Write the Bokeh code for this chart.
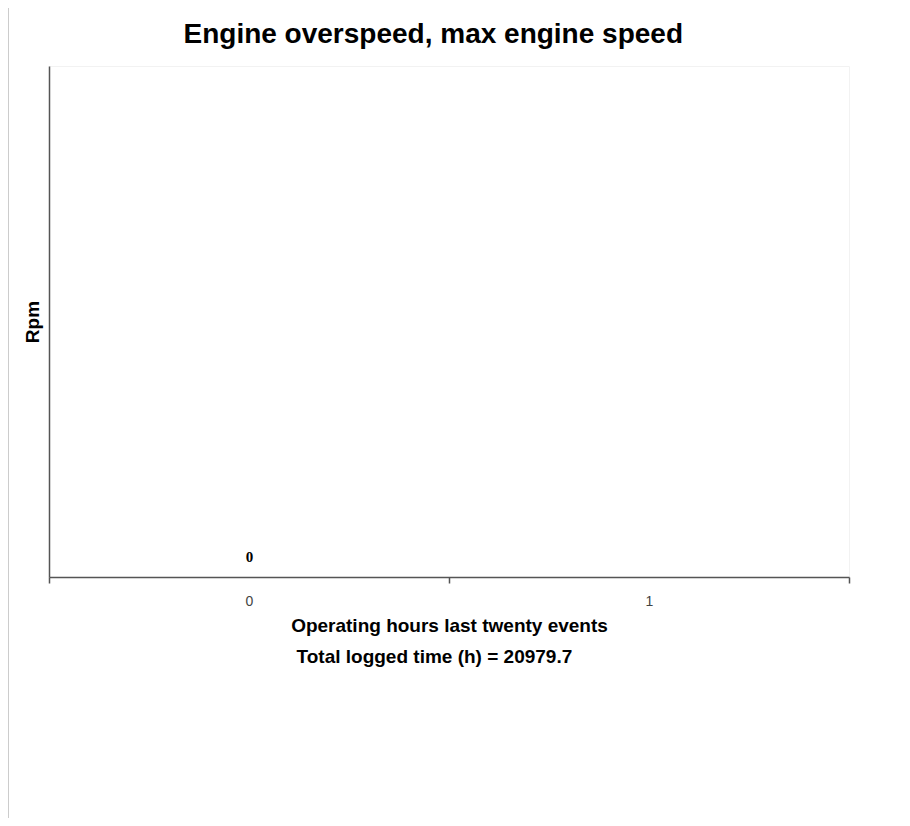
from bokeh.plotting import figure
from bokeh.models import Range1d, FixedTicker, Title, ColumnDataSource
from bokeh.core.properties import value
from bokeh.embed import file_html
from bokeh.resources import INLINE

# data
tick_labels = ["0", "1"]            # x categories shown on the axis
event_hours = ["0"]                 # categories that carry an event
max_rpm = [0]                       # max engine speed per event
total_logged_time = 20979.7

title_text = "Engine overspeed, max engine speed"
x_label = "Operating hours last twenty events"
y_label = "Rpm"

n = len(tick_labels)
centers = [tick_labels.index(h) + 0.5 for h in event_hours]
src = ColumnDataSource(dict(x=centers, top=max_rpm, label=[str(v) for v in max_rpm]))

p = figure(width=892, height=810, output_backend="svg", toolbar_location=None,
           x_range=Range1d(0, n), y_range=Range1d(0, 1),
           min_border_left=40, min_border_right=52, min_border_top=57,
           min_border_bottom=241)
p.margin = (8, 0, 0, 8)
p.styles = {"border-left": "1px solid #cccccc"}

p.title.text = title_text
p.title.text_font = "Liberation Sans"
p.title.text_font_size = "28px"
p.title.text_font_style = "bold"
p.title.text_color = "black"
p.title.align = "left"
p.title.offset = 134
p.title.standoff = 14

# small blank spacer between title and frame
p.add_layout(Title(text=" ", text_font_size="8px", standoff=0), "above")

p.grid.visible = False
p.outline_line_color = "#f2f2f2"
p.background_fill_color = "white"
p.border_fill_color = "white"

# x axis: labels at category centres, ticks at boundaries
xt = FixedTicker(ticks=[i + 0.5 for i in range(n)], minor_ticks=list(range(n + 1)))
p.xaxis.ticker = xt
p.xaxis.major_label_overrides = {i + 0.5: lab for i, lab in enumerate(tick_labels)}
p.xaxis.major_tick_line_color = None
p.xaxis.major_tick_out = 6
p.xaxis.major_tick_in = 0
p.xaxis.minor_tick_line_color = "#555555"
p.xaxis.minor_tick_line_width = 1.5
p.xaxis.minor_tick_out = 6
p.xaxis.minor_tick_in = 0
p.xaxis.major_label_standoff = 12
p.xaxis.major_label_text_font = "Liberation Sans"
p.xaxis.major_label_text_font_size = "14px"
p.xaxis.major_label_text_color = "#444444"
p.xaxis.axis_line_color = "#555555"
p.xaxis.axis_line_width = 1.5
p.xaxis.axis_label = x_label
p.xaxis.axis_label_text_font = "Liberation Sans"
p.xaxis.axis_label_text_font_size = "19px"
p.xaxis.axis_label_text_font_style = "bold"
p.xaxis.axis_label_text_color = "black"
p.xaxis.axis_label_standoff = 6

# y axis: no ticks
p.yaxis.ticker = FixedTicker(ticks=[])
p.yaxis.axis_line_color = "#555555"
p.yaxis.axis_line_width = 1.5
p.yaxis.major_tick_line_color = None
p.yaxis.minor_tick_line_color = None
p.yaxis.axis_label = y_label
p.yaxis.axis_label_text_font = "Liberation Sans"
p.yaxis.axis_label_text_font_size = "19px"
p.yaxis.axis_label_text_font_style = "bold"
p.yaxis.axis_label_text_color = "black"
p.yaxis.axis_label_standoff = 7

sub = Title(text=f"Total logged time (h) = {total_logged_time}", align="left", offset=247,
            text_font="Liberation Sans", text_font_size="19px", text_font_style="bold",
            text_color="black", standoff=11)
p.add_layout(sub, "below")

p.vbar(x="x", top="top", bottom=0, width=0.6, source=src, fill_color="#4f81bd", line_color=None)
p.text(x="x", y="top", text="label", source=src, text_align="center", text_baseline="bottom",
       y_offset=-16, text_font=value("Liberation Serif"), text_font_size="15px",
       text_font_style="bold", text_color="black")

open("out.html", "w").write(file_html(p, INLINE))
